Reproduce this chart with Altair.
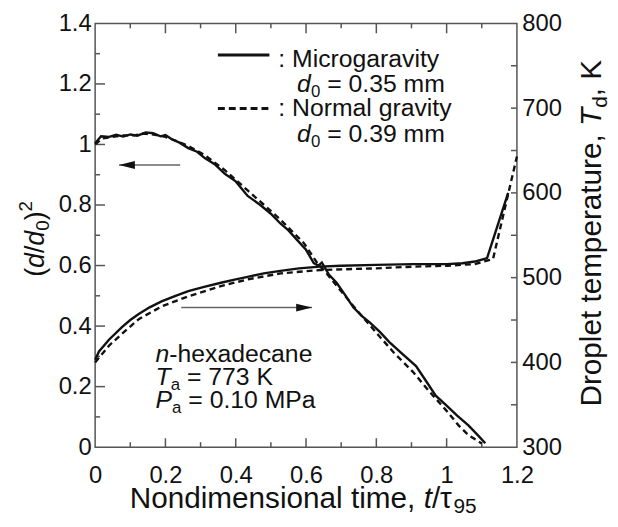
import altair as alt
import pandas as pd

# ---------------- data ----------------
# squared non-dimensional diameter (left axis)
t_mu_d = [0, 0.017, 0.04, 0.06, 0.08, 0.10, 0.12, 0.144, 0.165, 0.186, 0.20, 0.217, 0.24,
          0.265, 0.29, 0.312, 0.34, 0.369, 0.40, 0.434, 0.47, 0.499, 0.527, 0.55, 0.575,
          0.60, 0.622, 0.635, 0.645, 0.665, 0.687, 0.71, 0.735, 0.76, 0.781, 0.81, 0.837,
          0.87, 0.913, 0.94, 0.969, 1.0, 1.03, 1.062, 1.09, 1.11]
v_mu_d = [1.004, 1.027, 1.025, 1.032, 1.026, 1.033, 1.029, 1.040, 1.037, 1.027, 1.031, 1.018,
          1.006, 0.988, 0.976, 0.955, 0.935, 0.903, 0.878, 0.830, 0.800, 0.772, 0.739, 0.716,
          0.684, 0.652, 0.608, 0.600, 0.610, 0.570, 0.543, 0.505, 0.461, 0.432, 0.412, 0.381,
          0.347, 0.312, 0.268, 0.221, 0.170, 0.137, 0.104, 0.072, 0.038, 0.013]
t_ng_d = [0, 0.02, 0.05, 0.08, 0.11, 0.14, 0.17, 0.20, 0.23, 0.265, 0.312, 0.369, 0.434,
          0.476, 0.527, 0.594, 0.631, 0.66, 0.70, 0.75, 0.80, 0.85, 0.904, 0.95, 1.0, 1.034,
          1.062, 1.10]
v_ng_d = [1.0, 1.02, 1.025, 1.03, 1.03, 1.036, 1.032, 1.025, 1.012, 0.995, 0.965, 0.915,
          0.848, 0.805, 0.752, 0.674, 0.610, 0.572, 0.515, 0.445, 0.378, 0.312, 0.249, 0.185,
          0.120, 0.072, 0.040, 0.012]
# droplet temperature (right axis)
t_mu_T = [0, 0.011, 0.04, 0.077, 0.10, 0.124, 0.155, 0.189, 0.225, 0.265, 0.31, 0.358, 0.40,
          0.434, 0.48, 0.527, 0.58, 0.64, 0.70, 0.80, 0.904, 0.95, 1.0, 1.045, 1.08, 1.115, 1.175]
T_mu = [403, 413, 427, 442, 450, 457, 465, 472, 478, 484, 489, 494, 498, 501, 505, 508, 511,
        513, 514, 515, 516, 516, 516, 517, 519, 523, 600]
t_ng_T = [0, 0.04, 0.077, 0.124, 0.189, 0.265, 0.358, 0.434, 0.527, 0.64, 0.80, 0.904, 1.0,
          1.08, 1.132, 1.2]
T_ng = [400, 420, 434, 451, 466, 478, 490, 498, 505, 509, 511, 513, 514, 516, 522, 643]

x_labels = [0, 0.2, 0.4, 0.6, 0.8, 1.0, 1.2]
left_labels = [0, 0.2, 0.4, 0.6, 0.8, 1.0, 1.2, 1.4]
right_labels = [300, 400, 500, 600, 700, 800]
x_major = [0.2, 0.4, 0.6, 0.8, 1.0]
x_minor = [0.1, 0.3, 0.5, 0.7, 0.9, 1.1]
left_major = [0.2, 0.4, 0.6, 0.8, 1.0, 1.2]
left_minor = [0.1, 0.3, 0.5, 0.7, 0.9, 1.1, 1.3]
right_ticks = [350, 400, 450, 500, 550, 600, 650, 700, 750]

# arrows (data units of the left axis)
arrow_from = [0.242, 0.245]
arrow_to = [0.068, 0.617]
arrow_v = [0.932, 0.461]

FONT = "Liberation Sans"
W, H = 426, 428
INK = "#111111"
FRAME = "#555555"

# text pieces: (text, x, y, size, angle)  positions in plot pixels
normal_pieces = [
    (": Microgaravity", 185, 44, 25, 0),
    ("0", 218, 74, 17, 0),
    ("= 0.35 mm", 234.4, 69, 25, 0),
    (": Normal gravity", 185, 94, 25, 0),
    ("0", 218, 125, 17, 0),
    ("= 0.39 mm", 234.4, 120, 25, 0),
    ("-hexadecane", 74.9, 342, 25, 0),
    ("a", 76.3, 370, 17, 0),
    ("= 773 K", 92.7, 365, 25, 0),
    ("a", 77.7, 393, 17, 0),
    ("= 0.10 MPa", 94.1, 388, 25, 0),
    # x-axis title
    ("Nondimensional time,", 35, 489, 30, 0),
    ("/", 340.1, 489, 30, 0),
    ("\u03c4", 348.4, 489, 30, 0),
    ("95", 361.9, 495, 21, 0),
    # left title (rotated)
    ("(", -52, 256, 27, 270),
    ("/", -52, 232, 27, 270),
    ("0", -47, 209.5, 19, 270),
    (")", -52, 198.9, 27, 270),
    ("2", -64, 189.9, 19, 270),
    # right title (rotated)
    ("Droplet temperature,", 511, 387, 30, 270),
    ("d", 517, 85.3, 21, 270),
    (", K", 511, 73.6, 30, 270),
]
italic_pieces = [
    ("d", 204, 69, 25, 0),
    ("d", 204, 120, 25, 0),
    ("n", 61, 342, 25, 0),
    ("T", 61, 365, 25, 0),
    ("P", 61, 388, 25, 0),
    ("t", 331.8, 489, 30, 0),
    ("d", -52, 247, 27, 270),
    ("d", -52, 224.5, 27, 270),
    ("T", 511, 103.6, 30, 270),
]

cols = ["text", "px", "py", "size", "angle"]
df_norm = pd.DataFrame(normal_pieces, columns=cols)
df_ital = pd.DataFrame(italic_pieces, columns=cols)

# ---------------- scales & axes ----------------
xscale = alt.Scale(domain=[0, 1.2], nice=False, zero=False)
lscale = alt.Scale(domain=[0, 1.4], nice=False, zero=False)
rscale = alt.Scale(domain=[300, 800], nice=False, zero=False)

common_axis = dict(ticks=False, tickSize=0, domain=False, grid=False, title=None,
                   labelFont=FONT, labelFontSize=24, labelColor=INK,
                   labelFlush=False, labelOverlap=False)
x_axis = alt.Axis(values=x_labels, labelPadding=17, format="~g", **common_axis)
l_axis = alt.Axis(values=left_labels, labelPadding=4, format="~g", **common_axis)
r_axis = alt.Axis(values=right_labels, labelPadding=5, format="d", orient="right", **common_axis)

X = lambda f: alt.X(f"{f}:Q", scale=xscale, axis=x_axis)
YL = lambda f: alt.Y(f"{f}:Q", scale=lscale, axis=l_axis)
YR = lambda f: alt.Y(f"{f}:Q", scale=rscale, axis=r_axis)

df_mu_d = pd.DataFrame({"t": t_mu_d, "v": v_mu_d})
df_ng_d = pd.DataFrame({"t": t_ng_d, "v": v_ng_d})
df_mu_T = pd.DataFrame({"t": t_mu_T, "T": T_mu})
df_ng_T = pd.DataFrame({"t": t_ng_T, "T": T_ng})

line_mu_d = alt.Chart(df_mu_d).mark_line(color=INK, strokeWidth=2.4).encode(x=X("t"), y=YL("v"))
line_ng_d = alt.Chart(df_ng_d).mark_line(color=INK, strokeWidth=2.4, strokeDash=[6, 4]).encode(
    x=X("t"), y=YL("v"))

tick_style = dict(color=FRAME, strokeWidth=1.5)
lmaj = alt.Chart(pd.DataFrame({"v": left_major})).mark_rule(**tick_style).encode(
    y=YL("v"), x=alt.value(0), x2=alt.value(10))
lmin = alt.Chart(pd.DataFrame({"v": left_minor})).mark_rule(**tick_style).encode(
    y=YL("v"), x=alt.value(0), x2=alt.value(5))
tmaj = alt.Chart(pd.DataFrame({"t": x_major})).mark_rule(**tick_style).encode(
    x=X("t"), y=alt.value(0), y2=alt.value(10))
tmin = alt.Chart(pd.DataFrame({"t": x_minor})).mark_rule(**tick_style).encode(
    x=X("t"), y=alt.value(0), y2=alt.value(5))
bmaj = alt.Chart(pd.DataFrame({"t": x_major})).mark_rule(**tick_style).encode(
    x=X("t"), y=alt.value(H), y2=alt.value(H - 9))
bmin = alt.Chart(pd.DataFrame({"t": x_minor})).mark_rule(**tick_style).encode(
    x=X("t"), y=alt.value(H), y2=alt.value(H - 5))

df_arrow = pd.DataFrame({"t1": arrow_from, "t2": arrow_to, "v": arrow_v})
arrow_lines = alt.Chart(df_arrow).mark_rule(color="#666666", strokeWidth=1.5).encode(
    x=X("t1"), x2="t2", y=YL("v"))
head_left = alt.Chart(df_arrow.iloc[[0]]).mark_point(
    shape="M 0 0 L 2 -0.5 L 2 0.5 Z", filled=True, size=256, color=INK, opacity=1,
    strokeWidth=0).encode(x=X("t2"), y=YL("v"))
head_right = alt.Chart(df_arrow.iloc[[1]]).mark_point(
    shape="M 0 0 L -2 -0.5 L -2 0.5 Z", filled=True, size=256, color=INK, opacity=1,
    strokeWidth=0).encode(x=X("t2"), y=YL("v"))

left_group = alt.layer(lmaj, lmin, tmaj, tmin, bmaj, bmin, arrow_lines, head_left, head_right,
                       line_ng_d, line_mu_d)

line_mu_T = alt.Chart(df_mu_T).mark_line(color=INK, strokeWidth=2.4).encode(x=X("t"), y=YR("T"))
line_ng_T = alt.Chart(df_ng_T).mark_line(color=INK, strokeWidth=2.4, strokeDash=[6, 4]).encode(
    x=X("t"), y=YR("T"))
rtick = alt.Chart(pd.DataFrame({"T": right_ticks})).mark_rule(**tick_style).encode(
    y=YR("T"), x=alt.value(W), x2=alt.value(W - 6))
right_group = alt.layer(rtick, line_ng_T, line_mu_T)

legend_solid = alt.Chart(pd.DataFrame({"k": [0]})).mark_rule(color=INK, strokeWidth=3).encode(
    x=alt.value(124), x2=alt.value(176), y=alt.value(32))
legend_dash = alt.Chart(pd.DataFrame({"k": [0]})).mark_rule(
    color=INK, strokeWidth=3, strokeDash=[7, 4]).encode(
    x=alt.value(124), x2=alt.value(176), y=alt.value(86))


def text_layer(df, style):
    return alt.Chart(df).mark_text(font=FONT, fontStyle=style, align="left",
                                   baseline="alphabetic", color=INK).encode(
        x=alt.X("px:Q", scale=None, axis=None),
        y=alt.Y("py:Q", scale=None, axis=None),
        text="text:N",
        size=alt.Size("size:Q", scale=None, legend=None),
        angle=alt.Angle("angle:Q", scale=None, legend=None),
    )


texts = alt.layer(text_layer(df_norm, "normal"), text_layer(df_ital, "italic"),
                  legend_solid, legend_dash)

chart = alt.layer(left_group, right_group, texts).resolve_scale(y="independent").properties(
    width=W, height=H,
    padding={"left": 88, "top": 13, "right": 94, "bottom": 68},
    autosize=alt.AutoSizeParams(type="none"),
    background="white",
).configure_view(stroke=FRAME, strokeWidth=1.5)

chart.save("out.html", embed_options={"renderer": "svg", "actions": False})
